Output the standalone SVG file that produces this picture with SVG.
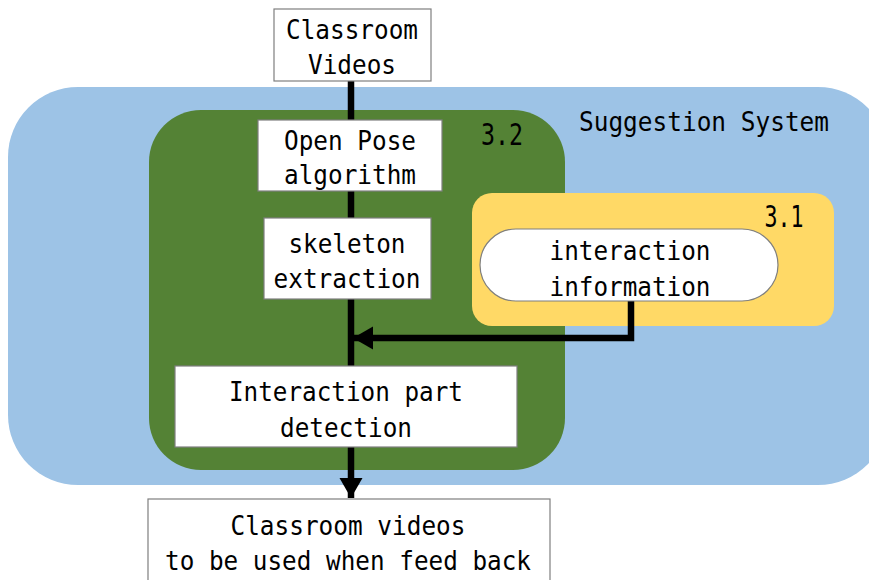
<svg xmlns="http://www.w3.org/2000/svg" width="869" height="580" viewBox="0 0 869 580">
<defs>
<style>
.t{font-family:"DejaVu Sans Mono","Liberation Mono",monospace;font-size:27px;fill:#000;text-anchor:middle}
.n{font-size:30px}
.box{fill:#fff;stroke:#7f7f7f;stroke-width:1.2}
.ln{fill:none;stroke:#000;stroke-width:6.5}
</style>
<marker id="ah" markerUnits="userSpaceOnUse" markerWidth="22" markerHeight="24" refX="20" refY="11.5" orient="auto" viewBox="0 0 22 23">
<path d="M0,0 L20,11.5 L0,23 Z" fill="#000"/>
</marker>
</defs>
<g id="suggestion-system">
<rect x="8" y="87" width="880" height="398" rx="70" ry="70" fill="#9dc3e6"/>
<text class="t" x="704" y="131" textLength="250" lengthAdjust="spacingAndGlyphs">Suggestion System</text>
</g>
<g id="section-3-2">
<rect x="149" y="110" width="416" height="360" rx="52" ry="52" fill="#548235"/>
<text class="t n" x="502" y="145" textLength="42" lengthAdjust="spacingAndGlyphs">3.2</text>
</g>
<g id="section-3-1">
<rect x="472" y="193" width="362" height="133" rx="20" ry="20" fill="#ffd966"/>
<text class="t n" x="784" y="227" textLength="39" lengthAdjust="spacingAndGlyphs">3.1</text>
</g>
<g id="connectors">
<line class="ln" x1="351" y1="81" x2="351" y2="120"/>
<line class="ln" x1="351" y1="191" x2="351" y2="218"/>
<line class="ln" x1="351" y1="299" x2="351" y2="366"/>
<line class="ln" x1="351" y1="447" x2="351" y2="498" marker-end="url(#ah)"/>
<polyline class="ln" points="631,300 631,338 353,338" marker-end="url(#ah)"/>
</g>
<g id="classroom-videos">
<rect class="box" x="274" y="9" width="157" height="72"/>
<text class="t" x="352" y="39" textLength="132" lengthAdjust="spacingAndGlyphs">Classroom</text>
<text class="t" x="352" y="74" textLength="88" lengthAdjust="spacingAndGlyphs">Videos</text>
</g>
<g id="open-pose">
<rect class="box" x="258" y="120" width="184" height="71"/>
<text class="t" x="350" y="150" textLength="132" lengthAdjust="spacingAndGlyphs">Open Pose</text>
<text class="t" x="350" y="184" textLength="132" lengthAdjust="spacingAndGlyphs">algorithm</text>
</g>
<g id="skeleton-extraction">
<rect class="box" x="264" y="218" width="167" height="81"/>
<text class="t" x="347" y="253" textLength="117" lengthAdjust="spacingAndGlyphs">skeleton</text>
<text class="t" x="347" y="288" textLength="147" lengthAdjust="spacingAndGlyphs">extraction</text>
</g>
<g id="interaction-information">
<rect class="box" x="480" y="229" width="298" height="72" rx="36" ry="36"/>
<text class="t" x="630" y="260" textLength="161" lengthAdjust="spacingAndGlyphs">interaction</text>
<text class="t" x="630" y="296" textLength="161" lengthAdjust="spacingAndGlyphs">information</text>
</g>
<g id="interaction-part-detection">
<rect class="box" x="175" y="366" width="342" height="81"/>
<text class="t" x="346" y="401" textLength="234" lengthAdjust="spacingAndGlyphs">Interaction part</text>
<text class="t" x="346" y="437" textLength="132" lengthAdjust="spacingAndGlyphs">detection</text>
</g>
<g id="classroom-videos-feedback">
<rect class="box" x="148" y="499" width="402" height="90"/>
<text class="t" x="348" y="535" textLength="235" lengthAdjust="spacingAndGlyphs">Classroom videos</text>
<text class="t" x="348" y="570" textLength="366" lengthAdjust="spacingAndGlyphs">to be used when feed back</text>
</g>
</svg>
